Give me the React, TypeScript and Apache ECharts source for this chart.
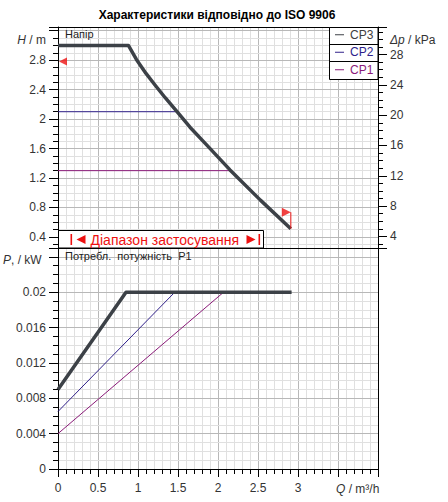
import React, { useEffect, useRef } from 'react';
import * as echarts from 'echarts';

// ---- data ----
const seriesNames = ['CP3', 'CP2', 'CP1'];
const seriesColors = ['#3c4147', '#30208a', '#8a1a78'];
const legendTextColors = ['#404040', '#2e1e8c', '#8b1a7a'];

// Head curves (Q m³/h, H m)
const cp3HeadQ = [0, 0.88, 0.98, 1.1, 1.2, 1.34, 1.48, 1.65, 1.84, 2.15, 2.53, 2.91];
const cp3HeadH = [3.0, 3.0, 2.81, 2.62, 2.48, 2.29, 2.11, 1.89, 1.67, 1.31, 0.9, 0.51];
const cp2HeadQ = [0, 1.49];
const cp2HeadH = [2.1, 2.1];
const cp1HeadQ = [0, 2.16];
const cp1HeadH = [1.3, 1.3];

// Power curves (Q m³/h, P kW)
const cp3PowerQ = [0, 0.85, 2.92];
const cp3PowerP = [0.009, 0.02, 0.02];
const cp2PowerQ = [0, 1.46];
const cp2PowerP = [0.0065, 0.02];
const cp1PowerQ = [0, 2.07];
const cp1PowerP = [0.004, 0.02];

// Operating range markers
const rangeStart = [0, 2.78];
const rangeEnd = [2.91, 0.51];

// Tick labels
const qLabelValues = [0, 0.5, 1, 1.5, 2, 2.5, 3];
const hLabelValues = [0.4, 0.8, 1.2, 1.6, 2, 2.4, 2.8];
const dpLabelValues = [4, 8, 12, 16, 20, 24, 28];
const pLabelValues = [0, 0.004, 0.008, 0.012, 0.016, 0.02];

const FONT = '"Liberation Sans", Arial, sans-serif';
const MAJOR = '#b8b8b8';
const MINOR = '#e0e0e0';
const RED = '#ee1111';
const LABEL = '#333333';

const zip = (a: number[], b: number[]) => a.map((v, i) => [v, b[i]]);
const near = (v: number, list: number[]) => list.some((t) => Math.abs(t - v) < 1e-7);
const fmt = (v: number) => String(Number(v.toFixed(4)));
const labelFrom = (list: number[]) => (v: number) => (near(v, list) ? fmt(v) : '');

const gridX = (index: number, extra: any = {}) => ({
  type: 'value',
  gridIndex: index,
  min: 0,
  max: 4,
  interval: 0.5,
  z: 0,
  axisLine: { show: false },
  axisTick: { show: false },
  axisLabel: { show: false },
  splitLine: { show: true, showMinLine: false, showMaxLine: false, lineStyle: { color: MAJOR, width: 1 } },
  minorTick: { show: false, splitNumber: 5 },
  minorSplitLine: { show: true, lineStyle: { color: MINOR, width: 1 } },
  ...extra,
});

const borderAxis = (index: number, position: string) => ({
  type: 'value',
  gridIndex: index,
  position,
  min: 0,
  max: 1,
  z: 3,
  axisLine: { show: true, onZero: false, lineStyle: { color: '#000', width: 1 } },
  axisTick: { show: false },
  axisLabel: { show: false },
  splitLine: { show: false },
});

const valueY = (index: number, position: string, min: number, max: number, step: number, labels: number[], showGrid: boolean, z: number) => ({
  type: 'value',
  gridIndex: index,
  position,
  min,
  max,
  minInterval: step,
  maxInterval: step,
  splitNumber: Math.round((max - min) / step),
  z,
  axisLine: { show: true, onZero: false, lineStyle: { color: '#000', width: 1 } },
  axisTick: { show: true, length: 9, lineStyle: { color: '#000' } },
  minorTick: { show: true, splitNumber: 4, length: 5, lineStyle: { color: '#000' } },
  axisLabel: {
    show: true,
    margin: 12,
    color: LABEL,
    fontSize: 12,
    fontFamily: FONT,
    showMinLabel: true,
    showMaxLabel: true,
    formatter: labelFrom(labels),
  },
  splitLine: { show: showGrid, showMinLine: false, showMaxLine: false, lineStyle: { color: MAJOR, width: 1 } },
  minorSplitLine: { show: showGrid, lineStyle: { color: MINOR, width: 1 } },
});

const lineSeries = (name: string, color: string, width: number, xi: number, yi: number, data: number[][], z = 2) => ({
  name,
  type: 'line',
  xAxisIndex: xi,
  yAxisIndex: yi,
  data,
  symbol: 'none',
  showSymbol: false,
  color,
  z,
  lineStyle: { color, width, join: 'round', cap: 'butt' },
  emphasis: { disabled: true },
});

const flagPath = 'path://M0,0 L9,4.5 L0,9 Z M8.4,4.5 L9.6,4.5 L9.6,21 L8.4,21 Z';
const leftTriPath = 'path://M0,4 L8,0 L8,8 Z';

const option: any = {
  animation: false,
  textStyle: { fontFamily: FONT },
  grid: [
    { left: 58, top: 27, width: 320, height: 221, show: false },
    { left: 58, top: 248, width: 320, height: 221, show: false },
  ],
  xAxis: [
    gridX(0),
    gridX(1, {
      axisLine: { show: true, onZero: false, lineStyle: { color: '#000', width: 1 } },
      axisTick: { show: true, length: 8, lineStyle: { color: '#000' } },
      minorTick: { show: true, splitNumber: 5, length: 5, lineStyle: { color: '#000' } },
      axisLabel: {
        show: true,
        margin: 13,
        color: LABEL,
        fontSize: 12,
        fontFamily: FONT,
        formatter: labelFrom(qLabelValues),
      },
    }),
    borderAxis(0, 'top'),
    borderAxis(0, 'bottom'),
  ],
  yAxis: [
    valueY(0, 'left', 0.25, 3.25, 0.4, hLabelValues, true, 1),
    valueY(0, 'right', 2.48, 31.63, 4, dpLabelValues, false, 2),
    valueY(1, 'left', 0, 0.025, 0.004, pLabelValues, true, 1),
    borderAxis(1, 'right'),
  ],
  legend: {
    orient: 'vertical',
    left: 335,
    top: 26,
    padding: 0,
    itemGap: 0,
    itemWidth: 9,
    itemHeight: 1,
    icon: 'rect',
    z: 20,
    selectedMode: false,
    textStyle: { fontSize: 12, fontFamily: FONT, lineHeight: 17.5, padding: [0, 0, 0, 1] },
    data: seriesNames.map((n, i) => ({ name: n, textStyle: { color: legendTextColors[i] } })),
  },
  series: [
    lineSeries('CP1', seriesColors[2], 1, 0, 0, zip(cp1HeadQ, cp1HeadH)),
    lineSeries('CP2', seriesColors[1], 1, 0, 0, zip(cp2HeadQ, cp2HeadH)),
    lineSeries('CP3', seriesColors[0], 3.5, 0, 0, zip(cp3HeadQ, cp3HeadH), 3),
    lineSeries('CP1', seriesColors[2], 1, 1, 2, zip(cp1PowerQ, cp1PowerP)),
    lineSeries('CP2', seriesColors[1], 1, 1, 2, zip(cp2PowerQ, cp2PowerP)),
    lineSeries('CP3', seriesColors[0], 3.5, 1, 2, zip(cp3PowerQ, cp3PowerP), 3),
    {
      name: 'rangeStart',
      type: 'scatter',
      xAxisIndex: 0,
      yAxisIndex: 0,
      data: [rangeStart],
      symbol: leftTriPath,
      symbolSize: [8, 8],
      symbolOffset: [5, 0],
      itemStyle: { color: RED },
      z: 6,
      silent: true,
      clip: false,
    },
    {
      name: 'rangeEnd',
      type: 'scatter',
      xAxisIndex: 0,
      yAxisIndex: 0,
      data: [rangeEnd],
      symbol: flagPath,
      symbolSize: [9.6, 21],
      symbolOffset: [-4.2, -10.5],
      itemStyle: { color: RED },
      z: 6,
      silent: true,
      clip: false,
    },
  ],
  graphic: [
    {
      type: 'text',
      x: 217,
      y: 15,
      z: 30,
      style: {
        text: 'Характеристики відповідно до ISO 9906',
        fontSize: 12,
        fontWeight: 'bold',
        fontFamily: FONT,
        fill: '#000',
        align: 'center',
        verticalAlign: 'middle',
      },
    },
    // axis unit labels
    {
      type: 'text', x: 46, y: 40, z: 30,
      style: { text: '{i|H} / m', align: 'right', verticalAlign: 'middle', fontSize: 12, fontFamily: FONT, fill: LABEL, rich: { i: { fontStyle: 'italic', fontSize: 12, fontFamily: FONT, fill: LABEL } } },
    },
    {
      type: 'text', x: 390, y: 40, z: 30,
      style: { text: '{i|Δp} / kPa', align: 'left', verticalAlign: 'middle', fontSize: 12, fontFamily: FONT, fill: LABEL, rich: { i: { fontStyle: 'italic', fontSize: 12, fontFamily: FONT, fill: LABEL } } },
    },
    {
      type: 'text', x: 3, y: 260, z: 30,
      style: { text: '{i|P}, / kW', align: 'left', verticalAlign: 'middle', fontSize: 12, fontFamily: FONT, fill: LABEL, rich: { i: { fontStyle: 'italic', fontSize: 12, fontFamily: FONT, fill: LABEL } } },
    },
    {
      type: 'text', x: 336, y: 489, z: 30,
      style: { text: '{i|Q} / m³/h', align: 'left', verticalAlign: 'middle', fontSize: 12, fontFamily: FONT, fill: LABEL, rich: { i: { fontStyle: 'italic', fontSize: 12, fontFamily: FONT, fill: LABEL } } },
    },
    // in-plot captions
    {
      type: 'text', x: 65, y: 34, z: 30,
      style: { text: 'Напір', align: 'left', verticalAlign: 'middle', fontSize: 11, fontFamily: FONT, fill: '#222' },
    },
    {
      type: 'text', x: 65, y: 256, z: 30,
      style: { text: 'Потребл.  потужність  P1', align: 'left', verticalAlign: 'middle', fontSize: 11, fontFamily: FONT, fill: '#222' },
    },
    // legend frame
    {
      type: 'rect', z: 10, silent: true,
      shape: { x: 329.5, y: 27.5, width: 48.5, height: 52 },
      style: { fill: '#fff', stroke: '#000', lineWidth: 1 },
    },
    { type: 'line', z: 11, silent: true, shape: { x1: 329.5, y1: 44.5, x2: 378, y2: 44.5 }, style: { stroke: '#000', lineWidth: 1 } },
    { type: 'line', z: 11, silent: true, shape: { x1: 329.5, y1: 61.5, x2: 378, y2: 61.5 }, style: { stroke: '#000', lineWidth: 1 } },
    // operating range box
    {
      type: 'rect', z: 10, silent: true,
      shape: { x: 58.5, y: 230.5, width: 205, height: 17.5 },
      style: { fill: '#fff', stroke: '#000', lineWidth: 1 },
    },
    { type: 'rect', z: 11, silent: true, shape: { x: 70.5, y: 234, width: 1.6, height: 11 }, style: { fill: RED } },
    { type: 'polygon', z: 11, silent: true, shape: { points: [[76.5, 239.5], [85.5, 235], [85.5, 244]] }, style: { fill: RED } },
    {
      type: 'text', x: 90.5, y: 239.5, z: 11,
      style: { text: 'Діапазон застосування', align: 'left', verticalAlign: 'middle', fontSize: 14, fontFamily: FONT, fill: RED },
    },
    { type: 'polygon', z: 11, silent: true, shape: { points: [[246.5, 235], [255.5, 239.5], [246.5, 244]] }, style: { fill: RED } },
    { type: 'rect', z: 11, silent: true, shape: { x: 258.5, y: 234, width: 1.6, height: 11 }, style: { fill: RED } },
  ],
};

export default function App() {
  const ref = useRef<HTMLDivElement>(null);
  useEffect(() => {
    if (!ref.current) return;
    const chart = echarts.init(ref.current, null, { renderer: 'svg' });
    chart.setOption(option);
    return () => chart.dispose();
  }, []);
  return (
    <div
      ref={ref}
      style={{ position: 'fixed', left: 0, top: 0, width: 448, height: 502, background: '#fff' }}
    />
  );
}
